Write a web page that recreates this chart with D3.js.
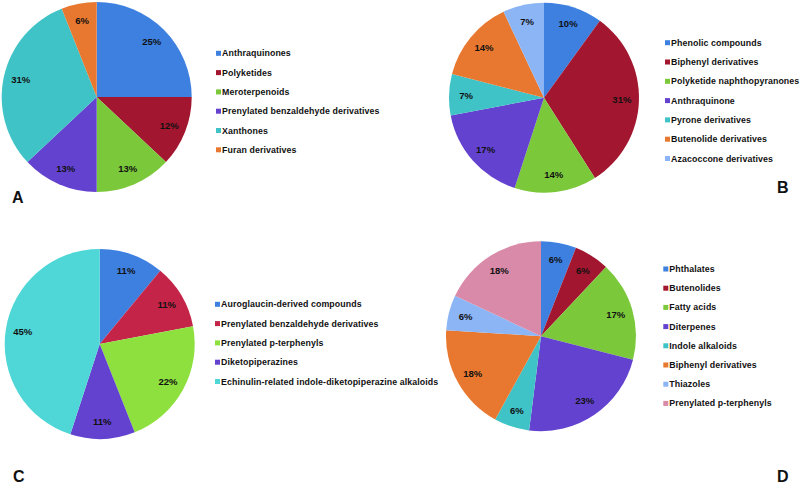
<!DOCTYPE html>
<html><head><meta charset="utf-8">
<script src="https://cdn.jsdelivr.net/npm/d3@7"></script>
<style>body{margin:0;background:#fff}svg{display:block}</style>
</head><body>
<script>
// Panel A
const catsA = ["Anthraquinones","Polyketides","Meroterpenoids","Prenylated benzaldehyde derivatives","Xanthones","Furan derivatives"];
const valsA = [25,12,13,13,31,6];
const colsA = ["#3d80e0","#a2162f","#7cc83b","#6342cf","#3fc3c6","#e8782f"];
// Panel B
const catsB = ["Phenolic compounds","Biphenyl derivatives","Polyketide naphthopyranones","Anthraquinone","Pyrone derivatives","Butenolide derivatives","Azacoccone derivatives"];
const valsB = [10,31,14,17,7,14,7];
const colsB = ["#3d80e0","#a2162f","#7cc83b","#6342cf","#3fc3c6","#e8782f","#8cb5f5"];
// Panel C
const catsC = ["Auroglaucin-derived compounds","Prenylated benzaldehyde derivatives","Prenylated p-terphenyls","Diketopiperazines","Echinulin-related indole-diketopiperazine alkaloids"];
const valsC = [11,11,22,11,45];
const colsC = ["#3d80e0","#c42447","#8ee03e","#6342cf","#4fd6d6"];
// Panel D
const catsD = ["Phthalates","Butenolides","Fatty acids","Diterpenes","Indole alkaloids","Biphenyl derivatives","Thiazoles","Prenylated p-terphenyls"];
const valsD = [6,6,17,23,6,18,6,18];
const colsD = ["#3d80e0","#a2162f","#7cc83b","#6342cf","#3fc3c6","#e8782f","#8cb5f5","#d98aa8"];
const panelLetters = ["A","B","C","D"];

const W = 803, H = 485;
const svg = d3.select("body").append("svg").attr("width", W).attr("height", H);

const panels = [
  {cats: catsA, vals: valsA, cols: colsA, cx: 96.7, cy: 97, r: 95, lx: 216, ly: 53.3, step: 19.3, letter: panelLetters[0], tx: 12, ty: 203},
  {cats: catsB, vals: valsB, cols: colsB, cx: 544, cy: 97.7, r: 95, lx: 665, ly: 42.7, step: 19.3, letter: panelLetters[1], tx: 777, ty: 193},
  {cats: catsC, vals: valsC, cols: colsC, cx: 99.7, cy: 344, r: 95, lx: 215, ly: 304.3, step: 19.3, letter: panelLetters[2], tx: 13, ty: 482},
  {cats: catsD, vals: valsD, cols: colsD, cx: 541, cy: 336.2, r: 95, lx: 663.3, ly: 269, step: 19.2, letter: panelLetters[3], tx: 777, ty: 482}
];

const font = "'Liberation Sans', Arial, sans-serif";

panels.forEach(p => {
  const data = p.cats.map((c, i) => ({cat: c, val: p.vals[i], col: p.cols[i]}));
  const pie = d3.pie().sort(null).value(d => d.val);
  const arcs = pie(data);
  const arc = d3.arc().innerRadius(0).outerRadius(p.r);
  const labelArc = d3.arc().innerRadius(p.r * 0.82).outerRadius(p.r * 0.82);
  const g = svg.append("g").attr("transform", `translate(${p.cx},${p.cy})`);
  g.selectAll("path").data(arcs).join("path")
    .attr("d", arc).attr("fill", d => d.data.col);
  g.selectAll("text").data(arcs).join("text")
    .attr("transform", d => `translate(${labelArc.centroid(d)})`)
    .attr("text-anchor", "middle").attr("dy", "0.35em")
    .attr("font-family", font).attr("font-weight", "bold").attr("font-size", 9.5)
    .attr("fill", "#111")
    .text(d => d.data.val + "%");

  const lg = svg.append("g").attr("transform", `translate(${p.lx},${p.ly})`);
  const rows = lg.selectAll("g").data(data).join("g")
    .attr("transform", (d, i) => `translate(0,${i * p.step})`);
  rows.append("rect").attr("x", 0).attr("y", -2.5).attr("width", 5).attr("height", 5)
    .attr("fill", d => d.col);
  rows.append("text").attr("x", 6).attr("dy", "0.35em")
    .attr("font-family", font).attr("font-weight", "bold").attr("font-size", 8.8)
    .attr("letter-spacing", 0.1)
    .attr("fill", "#111")
    .text(d => d.cat);

  svg.append("text").attr("x", p.tx).attr("y", p.ty)
    .attr("font-family", font).attr("font-weight", "bold").attr("font-size", 16)
    .attr("fill", "#111").text(p.letter);
});
</script>
</body></html>
